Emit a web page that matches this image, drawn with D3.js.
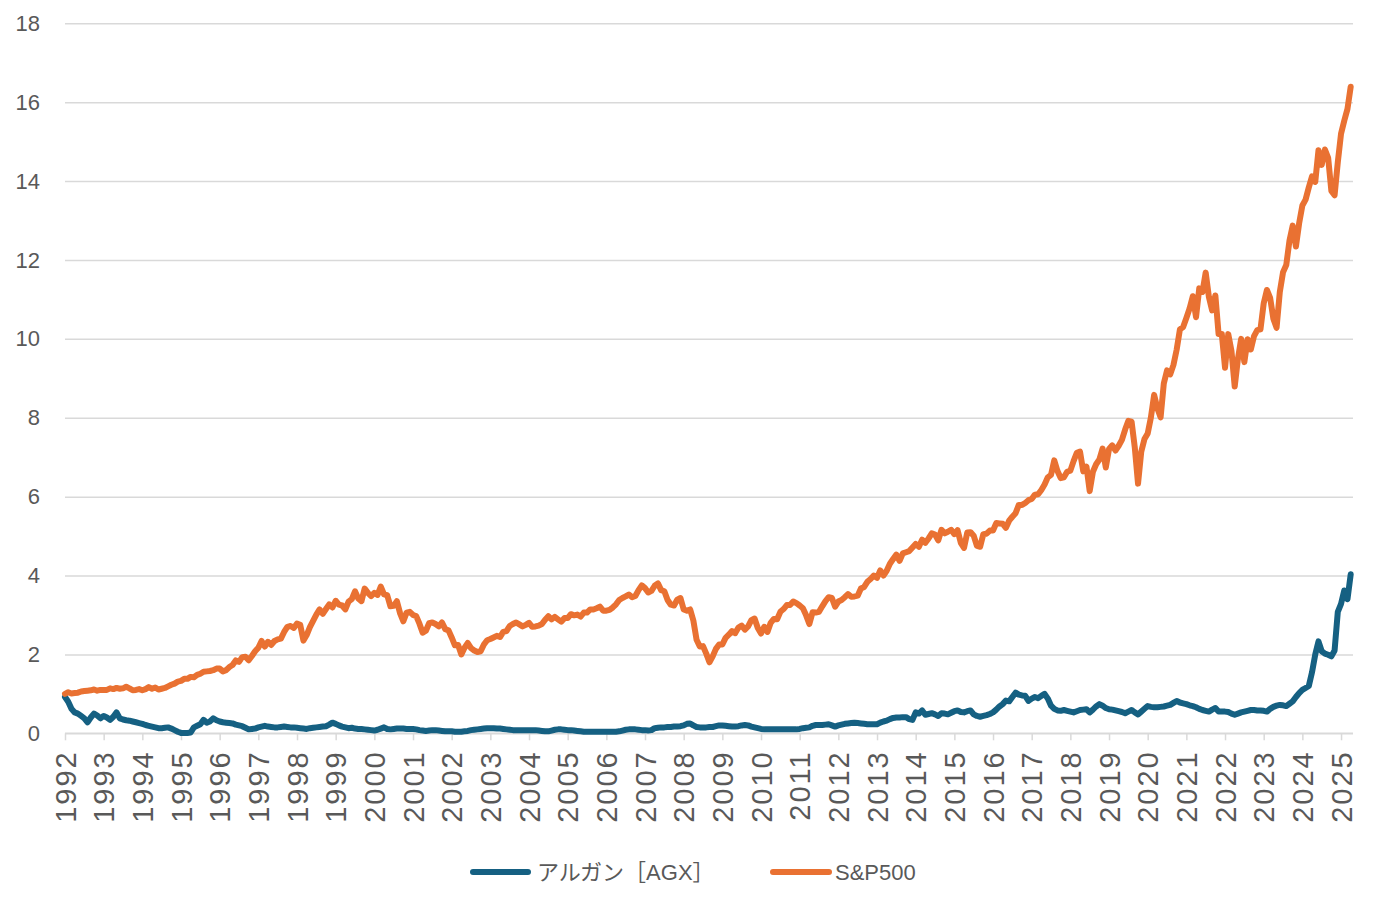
<!DOCTYPE html>
<html>
<head>
<meta charset="utf-8">
<script src="https://cdn.jsdelivr.net/npm/d3@7"></script>
<style>
  html, body { margin: 0; padding: 0; background: #ffffff; }
  svg { display: block; }
</style>
</head>
<body>
<svg id="chart" width="1375" height="897"></svg>
<script>
// ---- Data (monthly, Jun 1992 – Sep 2025, normalised to first month = 1) ----
const seriesNames = ["アルガン［AGX］", "S&P500"];
const yearLabels = ["1992","1993","1994","1995","1996","1997","1998","1999","2000","2001","2002","2003","2004","2005","2006","2007","2008","2009","2010","2011","2012","2013","2014","2015","2016","2017","2018","2019","2020","2021","2022","2023","2024","2025"];
const yTicks = [0, 2, 4, 6, 8, 10, 12, 14, 16, 18];

const agx = [
  0.92,0.80,0.62,0.53,0.50,0.44,0.38,0.28,0.40,0.50,
  0.45,0.38,0.44,0.40,0.34,0.42,0.53,0.38,0.35,0.33,
  0.32,0.30,0.28,0.26,0.24,0.21,0.19,0.17,0.15,0.13,
  0.13,0.14,0.15,0.12,0.08,0.04,0.01,0.01,0.01,0.02,
  0.15,0.19,0.23,0.34,0.27,0.30,0.38,0.33,0.30,0.28,
  0.27,0.26,0.25,0.22,0.20,0.18,0.14,0.10,0.11,0.12,
  0.15,0.17,0.19,0.17,0.16,0.15,0.15,0.16,0.17,0.16,
  0.15,0.15,0.14,0.13,0.12,0.11,0.13,0.14,0.15,0.16,
  0.17,0.18,0.22,0.27,0.24,0.20,0.17,0.15,0.13,0.14,
  0.12,0.11,0.11,0.10,0.09,0.08,0.07,0.09,0.12,0.15,
  0.11,0.10,0.11,0.12,0.12,0.12,0.11,0.11,0.11,0.10,
  0.08,0.07,0.06,0.07,0.08,0.08,0.07,0.06,0.05,0.05,
  0.05,0.04,0.04,0.04,0.05,0.06,0.08,0.09,0.10,0.11,
  0.12,0.13,0.13,0.13,0.12,0.12,0.11,0.10,0.09,0.08,
  0.08,0.08,0.08,0.08,0.08,0.08,0.08,0.07,0.06,0.05,
  0.05,0.07,0.09,0.10,0.10,0.09,0.08,0.08,0.07,0.06,
  0.05,0.04,0.04,0.04,0.04,0.04,0.04,0.04,0.04,0.04,
  0.04,0.04,0.05,0.07,0.09,0.10,0.10,0.10,0.09,0.08,
  0.08,0.07,0.08,0.13,0.14,0.15,0.15,0.16,0.16,0.17,
  0.17,0.18,0.20,0.24,0.25,0.20,0.16,0.15,0.15,0.15,
  0.16,0.16,0.18,0.20,0.20,0.19,0.18,0.17,0.17,0.18,
  0.20,0.21,0.20,0.17,0.15,0.13,0.11,0.10,0.10,0.10,
  0.10,0.10,0.10,0.10,0.10,0.10,0.10,0.10,0.11,0.13,
  0.14,0.15,0.19,0.21,0.21,0.21,0.22,0.23,0.20,0.17,
  0.20,0.22,0.24,0.25,0.26,0.27,0.26,0.25,0.24,0.23,
  0.23,0.23,0.23,0.27,0.30,0.32,0.36,0.39,0.40,0.40,
  0.41,0.41,0.36,0.34,0.53,0.50,0.58,0.47,0.49,0.51,
  0.48,0.44,0.51,0.50,0.48,0.52,0.56,0.58,0.54,0.53,
  0.56,0.58,0.48,0.44,0.42,0.44,0.46,0.49,0.53,0.60,
  0.68,0.74,0.83,0.81,0.92,1.03,0.98,0.96,0.95,0.82,
  0.88,0.92,0.89,0.95,1.00,0.88,0.70,0.62,0.58,0.57,
  0.59,0.57,0.55,0.53,0.56,0.59,0.60,0.61,0.53,0.60,
  0.68,0.74,0.70,0.64,0.61,0.60,0.58,0.56,0.54,0.51,
  0.55,0.59,0.53,0.48,0.55,0.62,0.69,0.67,0.66,0.66,
  0.67,0.68,0.70,0.72,0.77,0.82,0.78,0.76,0.74,0.71,
  0.69,0.66,0.62,0.59,0.57,0.55,0.60,0.64,0.55,0.55,
  0.55,0.54,0.50,0.47,0.50,0.53,0.55,0.57,0.59,0.59,
  0.58,0.58,0.57,0.55,0.62,0.67,0.70,0.72,0.71,0.69,
  0.75,0.81,0.92,1.02,1.10,1.15,1.20,1.55,2.00,2.33,
  2.08,2.02,1.99,1.95,2.10,3.08,3.28,3.62,3.40,4.03
];

const sp500 = [
  1.00,1.04,1.01,1.02,1.03,1.06,1.07,
  1.08,1.09,1.11,1.08,1.10,1.10,1.10,1.14,1.12,1.15,1.13,1.14,
  1.18,1.14,1.09,1.10,1.12,1.09,1.12,1.17,1.13,1.16,1.11,1.13,
  1.15,1.19,1.23,1.26,1.31,1.33,1.38,1.38,1.43,1.42,1.48,1.51,
  1.56,1.57,1.58,1.60,1.64,1.64,1.57,1.60,1.68,1.73,1.85,1.81,
  1.93,1.94,1.85,1.96,2.08,2.17,2.34,2.20,2.32,2.24,2.34,2.38,
  2.40,2.57,2.70,2.72,2.67,2.78,2.75,2.35,2.49,2.69,2.85,3.01,
  3.14,3.03,3.15,3.27,3.19,3.36,3.26,3.24,3.14,3.34,3.40,3.60,
  3.42,3.35,3.67,3.56,3.48,3.56,3.51,3.72,3.52,3.50,3.22,3.23,
  3.35,3.04,2.84,3.06,3.08,3.00,2.97,2.78,2.55,2.60,2.79,2.81,
  2.77,2.71,2.81,2.64,2.61,2.43,2.23,2.24,2.00,2.17,2.29,2.16,
  2.10,2.06,2.08,2.25,2.36,2.39,2.43,2.47,2.44,2.57,2.59,2.72,
  2.77,2.81,2.76,2.71,2.75,2.80,2.70,2.71,2.73,2.77,2.88,2.97,
  2.89,2.95,2.89,2.83,2.92,2.92,3.02,2.99,3.01,2.96,3.06,3.06,
  3.14,3.14,3.17,3.21,3.11,3.11,3.13,3.19,3.27,3.38,3.43,3.47,
  3.52,3.45,3.48,3.63,3.75,3.68,3.57,3.61,3.74,3.80,3.63,3.60,
  3.38,3.26,3.24,3.39,3.43,3.14,3.11,3.14,2.86,2.37,2.20,2.21,
  2.02,1.80,1.95,2.14,2.25,2.25,2.42,2.50,2.59,2.54,2.68,2.73,
  2.63,2.71,2.87,2.91,2.67,2.53,2.70,2.57,2.80,2.90,2.89,3.08,
  3.15,3.25,3.25,3.34,3.30,3.24,3.17,2.99,2.77,3.07,3.06,3.08,
  3.22,3.35,3.45,3.43,3.21,3.34,3.38,3.45,3.53,3.46,3.47,3.49,
  3.67,3.71,3.84,3.91,4.00,3.94,4.13,4.00,4.12,4.30,4.42,4.53,
  4.37,4.56,4.59,4.62,4.71,4.80,4.73,4.91,4.83,4.94,5.07,5.04,
  4.89,5.16,5.07,5.11,5.16,5.05,5.15,4.83,4.70,5.09,5.10,5.01,
  4.75,4.73,5.05,5.06,5.14,5.14,5.33,5.32,5.31,5.21,5.39,5.49,
  5.58,5.79,5.79,5.84,5.91,5.94,6.05,6.06,6.17,6.31,6.49,6.55,
  6.92,6.65,6.47,6.49,6.63,6.66,6.90,7.11,7.14,6.64,6.76,6.14,
  6.63,6.82,6.94,7.22,6.74,7.21,7.30,7.17,7.29,7.44,7.70,7.92,
  7.90,7.24,6.33,7.14,7.46,7.60,8.01,8.58,8.24,8.01,8.87,9.20,
  9.10,9.34,9.73,10.24,10.30,10.53,10.77,11.08,10.55,11.28,11.19,11.68,
  11.06,10.72,11.10,10.12,10.12,9.27,10.12,9.69,8.79,9.49,10.00,9.41,
  9.99,9.73,10.07,10.22,10.24,10.90,11.24,11.04,10.51,10.28,11.19,11.69,
  11.87,12.49,12.87,12.34,12.93,13.38,13.53,13.84,14.12,13.98,14.78,14.41,
  14.80,14.59,13.75,13.64,14.48,15.20,15.53,15.83,16.39
];

const colors = ["#156082", "#E97132"];

// ---- Layout ----
const svg = d3.select("#chart");
const plotLeft = 65, plotRight = 1353, plotTop = 23.3, plotBottom = 733.3;
const nPoints = sp500.length;

const x = d3.scaleLinear().domain([0, nPoints - 1]).range([plotLeft, 1350.7]);
const y = d3.scaleLinear().domain([0, 18]).range([plotBottom, plotTop]);

svg.append("rect").attr("width", 1375).attr("height", 897).attr("fill", "#ffffff");

const fontFamily = "'Liberation Sans', Arial, 'Noto Sans CJK JP', sans-serif";
const textColor = "#595959";
const gridColor = "#d9d9d9";

// Y axis with gridlines
const yAxis = svg.append("g")
  .attr("transform", `translate(${plotLeft},0)`)
  .call(d3.axisLeft(y).tickValues(yTicks).tickSize(-(plotRight - plotLeft)).tickPadding(25).tickFormat(d3.format("d")));
yAxis.select(".domain").remove();
yAxis.selectAll(".tick line").attr("stroke", gridColor).attr("stroke-width", 1.5);
yAxis.selectAll(".tick text")
  .attr("fill", textColor).attr("font-size", 22).attr("font-family", fontFamily);

// X axis
const xTickValues = yearLabels.map((_, i) => i * 12);
const xAxis = svg.append("g")
  .attr("transform", `translate(0,${plotBottom})`)
  .call(d3.axisBottom(x).tickValues(xTickValues).tickSize(7).tickFormat((d, i) => yearLabels[i]));
xAxis.select(".domain").attr("d", `M${plotLeft},0H${plotRight}`).attr("stroke", gridColor).attr("stroke-width", 1.5);
xAxis.selectAll(".tick line").attr("stroke", gridColor).attr("stroke-width", 1.5);
xAxis.selectAll(".tick text")
  .attr("fill", textColor)
  .attr("font-size", 29)
  .attr("letter-spacing", "2px")
  .attr("font-family", fontFamily)
  .attr("text-anchor", "end")
  .attr("transform", "rotate(-90)")
  .attr("x", -17)
  .attr("y", 0)
  .attr("dy", "0.35em");

// Lines
const line = d3.line()
  .x((d, i) => x(i))
  .y(d => y(d));

[agx, sp500].forEach((series, k) => {
  svg.append("path")
    .datum(series)
    .attr("fill", "none")
    .attr("stroke", colors[k])
    .attr("stroke-width", 6)
    .attr("stroke-linejoin", "round")
    .attr("stroke-linecap", "round")
    .attr("d", line);
});

// Legend
const legendY = 872;
const legendItems = [
  { x1: 473, x2: 528, tx: 537 },
  { x1: 773, x2: 829, tx: 835 }
];
legendItems.forEach((it, k) => {
  svg.append("line")
    .attr("x1", it.x1).attr("x2", it.x2)
    .attr("y1", legendY).attr("y2", legendY)
    .attr("stroke", colors[k]).attr("stroke-width", 6)
    .attr("stroke-linecap", "round");
  svg.append("text")
    .attr("x", it.tx).attr("y", legendY)
    .attr("dy", "0.35em")
    .attr("fill", textColor)
    .attr("font-size", 22)
    .attr("font-family", fontFamily)
    .text(seriesNames[k]);
});
</script>
</body>
</html>
